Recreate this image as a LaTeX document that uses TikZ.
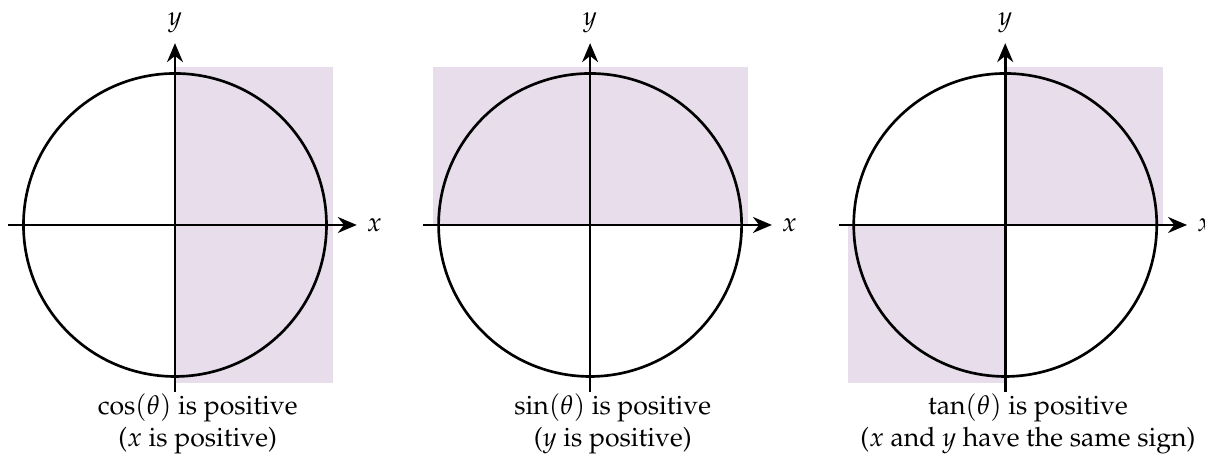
\documentclass[tikz,border=0pt]{standalone}
\usepackage[T1]{fontenc}
\usepackage{amsmath}
\usepackage{mathpazo}
\usepackage{xcolor}
\usepackage{tikz}
\usetikzlibrary{arrows.meta}
\definecolor{qlilac}{HTML}{E8DDEB}
\tikzset{
  >={Stealth[length=2.5mm, width=2.1mm]},
  qshade/.style={fill=qlilac, draw=none},
  qaxis/.style={->, black, line width=1pt},
  qcirc/.style={draw=black, line width=1pt},
  qcap/.style={align=center, font=\normalsize, inner sep=0pt},
}
\begin{document}
\begin{tikzpicture}

  \useasboundingbox (-2.31,-3.129) rectangle (13.597,2.97);

  % painel 1: cosseno
  \begin{scope}[xshift=0cm]
    \fill[qshade] (0,-2.08) rectangle (2.08,2.08);
    \draw[qaxis] (-2.2,0) -- (2.4,0) node[right] (x1) {$x$};
    \draw[qaxis] (0,-2.2) -- (0,2.4) node[above] (y1) {$y$};
    \draw[qcirc] (0,0) circle (2);
    \node[qcap] (c1) at (0.3,-2.62) {$\cos(\theta)$ is positive\\($x$ is positive)};
  \end{scope}

  % painel 2: seno
  \begin{scope}[xshift=5.48cm]
    \fill[qshade] (-2.08,0) rectangle (2.08,2.08);
    \draw[qaxis] (-2.2,0) -- (2.4,0) node[right] (x2) {$x$};
    \draw[qaxis] (0,-2.2) -- (0,2.4) node[above] (y2) {$y$};
    \draw[qcirc] (0,0) circle (2);
    \node[qcap] (c2) at (0.3,-2.62) {$\sin(\theta)$ is positive\\($y$ is positive)};
  \end{scope}

  % painel 3: tangente
  \begin{scope}[xshift=10.96cm]
    \fill[qshade] (0,0) rectangle (2.08,2.08);
    \fill[qshade] (-2.08,-2.08) rectangle (0,0);
    \draw[qaxis] (-2.2,0) -- (2.4,0) node[right] (x3) {$x$};
    \draw[qaxis] (0,-2.2) -- (0,2.4) node[above] (y3) {$y$};
    \draw[qcirc] (0,0) circle (2);
    \node[qcap] (c3) at (0.3,-2.62) {$\tan(\theta)$ is positive\\($x$ and $y$ have the same sign)};
  \end{scope}

\end{tikzpicture}
\end{document}
